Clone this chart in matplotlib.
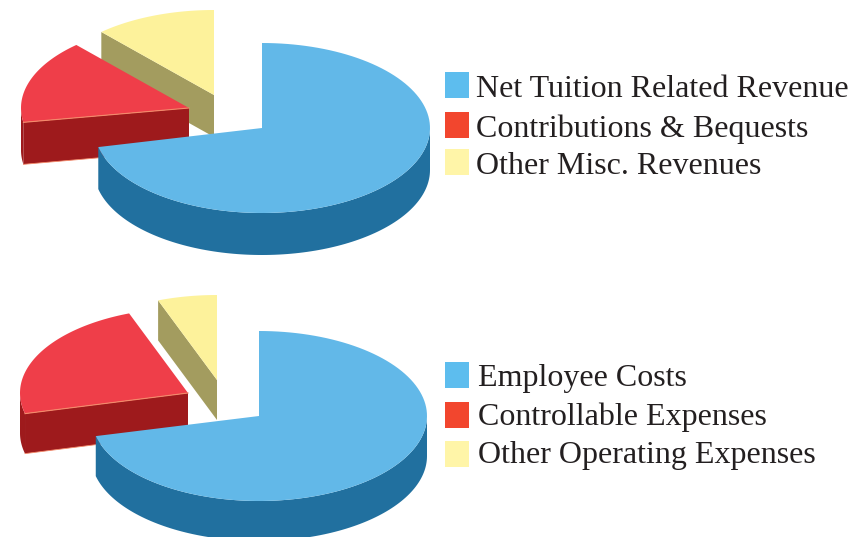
import numpy as np
import matplotlib
matplotlib.use('Agg')
import matplotlib.pyplot as plt
from matplotlib.patches import Polygon, Rectangle

# data (percent of each pie)
revenue_labels = ['Net Tuition Related Revenue', 'Contributions & Bequests', 'Other Misc. Revenues']
revenue_values = [71.4, 16.0, 11.7]
expense_labels = ['Employee Costs', 'Controllable Expenses', 'Other Operating Expenses']
expense_values = [71.2, 23.2, 5.7]

# colours: blue, red, yellow
top_colors = ['#62b8e8', '#ef3e49', '#fdf29b']
side_colors = ['#21709f', '#9e1a1c', '#a39c5f']
legend_colors = ['#5dbdee', '#f2462e', '#fff5a8']

RX, RY = 168, 85


def arc(cx, cy, t0, t1):
    t = np.radians(np.linspace(t0, t1, 120))
    return np.column_stack([cx + RX * np.cos(t), cy - RY * np.sin(t)])


def draw_pie(ax, values, apexes, depth):
    # yellow and red go counter clockwise from 12 o'clock, blue clockwise
    t_yellow = 90 + values[2] * 3.6
    t_red = t_yellow + values[1] * 3.6
    t_blue = 450 - values[0] * 3.6
    spans = [(2, 90, t_yellow), (1, t_yellow, t_red), (0, t_blue, 450)]
    down = np.array([0, depth])

    for i, t0, t1 in spans:
        cx, cy = apexes[i]
        outer = arc(cx, cy, t0, t1)

        # cut face at the lower end of the slice (hidden on the blue one)
        if i != 0:
            end_pt = outer[-1]
            ax.add_patch(Polygon([(cx, cy), end_pt, end_pt + down, (cx, cy + depth)],
                                 closed=True, fc=side_colors[i], ec='none'))
        # outer wall, only the part facing the viewer
        if t1 > 180:
            wall = arc(cx, cy, max(t0, 180), min(t1, 360))
            ax.add_patch(Polygon(np.vstack([wall, (wall + down)[::-1]]),
                                 closed=True, fc=side_colors[i], ec='none'))
        ax.add_patch(Polygon(np.vstack([[(cx, cy)], outer]), closed=True,
                             fc=top_colors[i], ec='none'))
        if i == 1:
            end_pt = outer[-1]
            ax.plot([cx, end_pt[0]], [cy, end_pt[1]], color='#f48a6a', lw=0.8, zorder=1)
            ax.plot([end_pt[0], cx], [end_pt[1] + depth, cy + depth], color='#f48a6a', lw=0.6, zorder=1)


def draw_legend(ax, labels, box_x, text_x, box_tops, baselines):
    for i, label in enumerate(labels):
        ax.add_patch(Rectangle((box_x, box_tops[i]), 24, 26, fc=legend_colors[i], ec='none'))
        ax.text(text_x, baselines[i], label, family='Liberation Serif', fontsize=23,
                color='#231f20', va='baseline', ha='left')


fig = plt.figure(figsize=(8.57, 5.37), dpi=100)
ax = fig.add_axes([0, 0, 1, 1])
ax.set_xlim(0, 857)
ax.set_ylim(537, 0)
ax.axis('off')

draw_pie(ax, revenue_values, [(262, 128), (189, 108), (214, 95)], 42)
draw_pie(ax, expense_values, [(259, 416), (188, 393), (217, 380)], 40)

draw_legend(ax, revenue_labels, 445, 476, [72, 112, 149], [97, 137, 174])
draw_legend(ax, expense_labels, 445, 478, [362, 402, 441], [386, 425, 463])

fig.savefig('out.png', dpi=100)
